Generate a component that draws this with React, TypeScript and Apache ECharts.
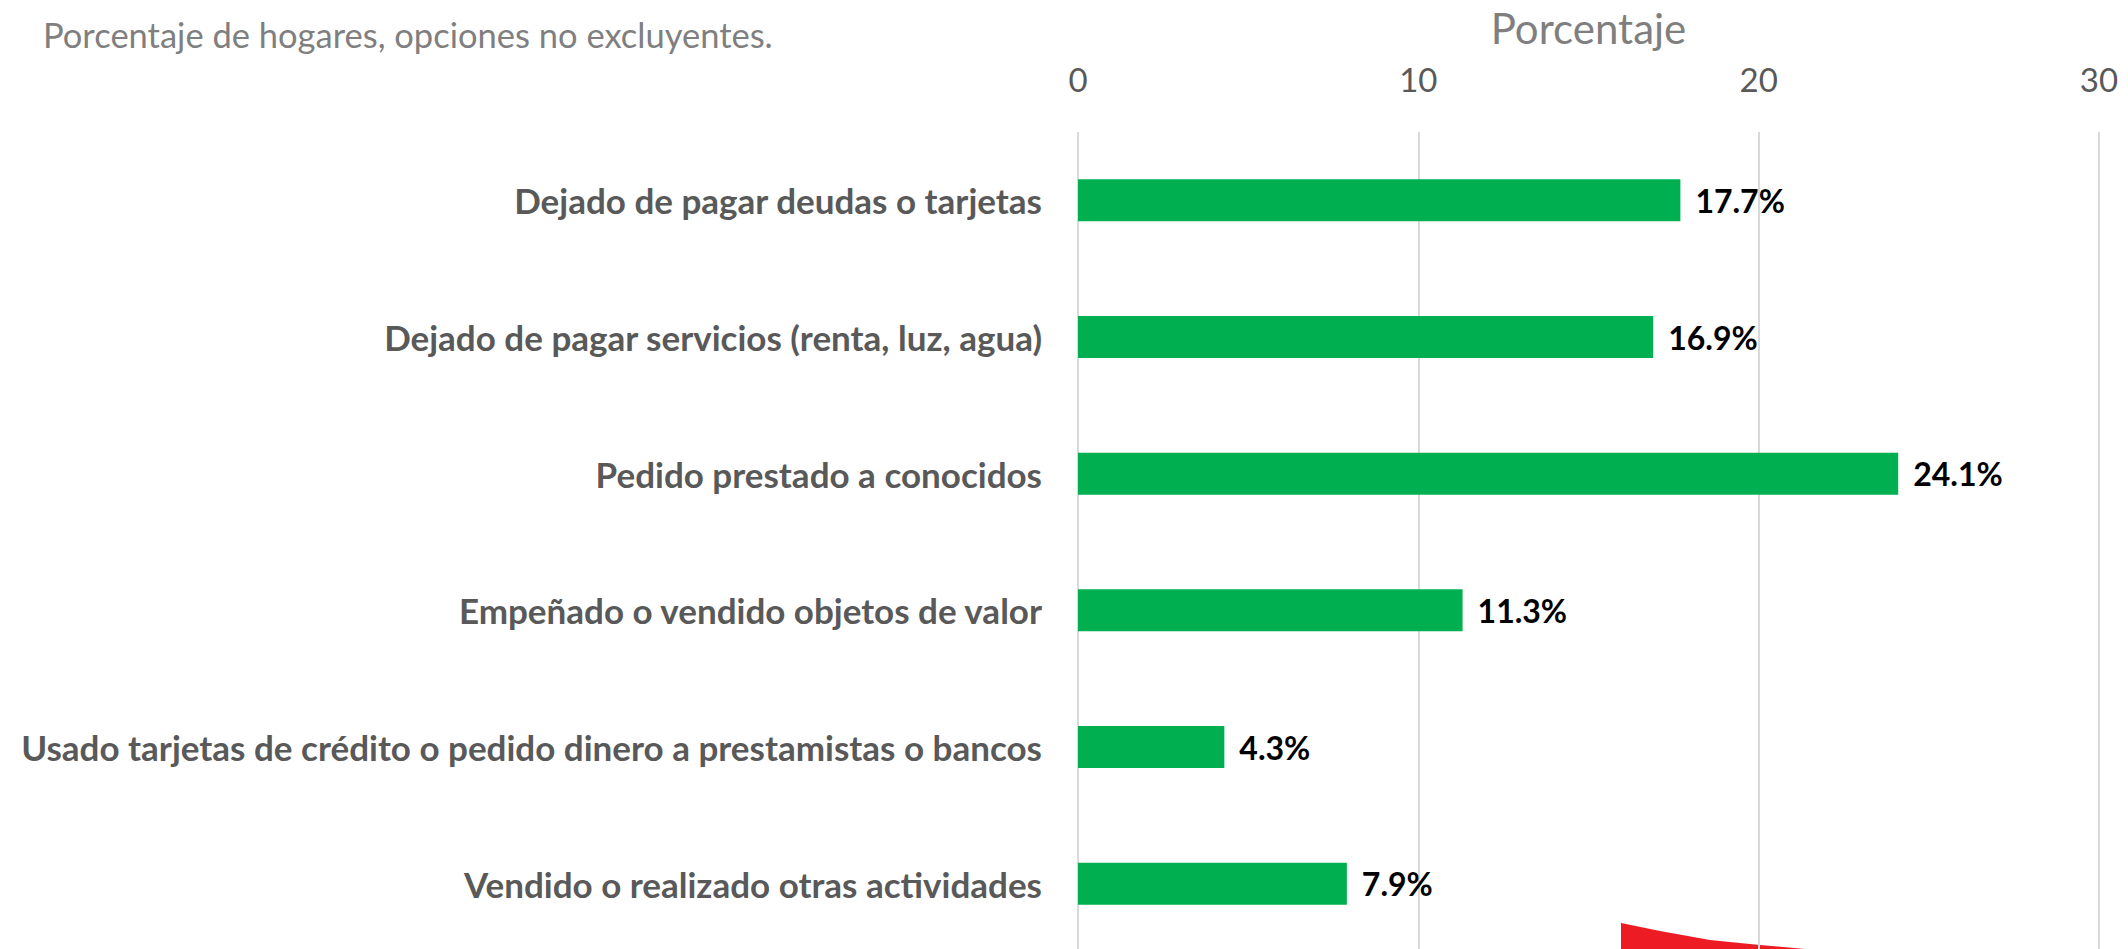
import React, { useEffect, useRef } from "react";
import * as echarts from "echarts";

const categories: string[] = [
  "Dejado de pagar deudas o tarjetas",
  "Dejado de pagar servicios (renta, luz, agua)",
  "Pedido prestado a conocidos",
  "Empeñado o vendido objetos de valor",
  "Usado tarjetas de crédito o pedido dinero a prestamistas o bancos",
  "Vendido o realizado otras actividades",
];
const values: number[] = [17.7, 16.9, 24.1, 11.3, 4.3, 7.9];
const axisTicks: number[] = [0, 10, 20, 30];
const subtitle = "Porcentaje de hogares, opciones no excluyentes.";
const axisTitle = "Porcentaje";

const FONT = "Lato";

export default function App() {
  const ref = useRef<HTMLDivElement>(null);
  useEffect(() => {
    if (!ref.current) return;
    const chart = echarts.init(ref.current, undefined, { renderer: "svg" });
    chart.setOption({
      animation: false,
      backgroundColor: "#ffffff",
      grid: {
        left: 1078,
        right: 29,
        top: 132,
        height: 820,
        containLabel: false,
        outerBoundsMode: "none",
      },
      xAxis: {
        type: "value",
        position: "top",
        min: axisTicks[0],
        max: axisTicks[axisTicks.length - 1],
        interval: 10,
        name: axisTitle,
        nameLocation: "middle",
        nameGap: 83,
        nameTextStyle: { fontFamily: FONT, fontSize: 42, color: "#7f7f7f" },
        axisLine: { show: false },
        axisTick: { show: false },
        axisLabel: { fontFamily: FONT, fontSize: 33, color: "#595959", margin: 37 },
        splitLine: { show: true, lineStyle: { color: "#d9d9d9", width: 2 } },
      },
      yAxis: {
        type: "category",
        data: categories,
        inverse: true,
        axisLine: { show: false },
        axisTick: { show: false },
        axisLabel: {
          fontFamily: FONT,
          fontSize: 35,
          fontWeight: "bold",
          color: "#595959",
          margin: 36,
        },
      },
      series: [
        {
          type: "bar",
          data: values,
          barWidth: 42,
          itemStyle: { color: "#00b050" },
          label: {
            show: true,
            position: "right",
            distance: 15,
            fontFamily: FONT,
            fontSize: 32,
            fontWeight: "bold",
            color: "#000000",
            formatter: (p: any) => `${Number(p.value).toFixed(1)}%`,
          },
        },
      ],
      graphic: [
        {
          type: "text",
          x: 43,
          y: 34,
          silent: true,
          style: {
            text: subtitle,
            fontFamily: FONT,
            fontSize: 34.5,
            fill: "#7f7f7f",
            align: "left",
            verticalAlign: "middle",
          },
        },
        {
          type: "polygon",
          shape: {
            points: [
              [1621, 923],
              [1660, 931],
              [1710, 940],
              [1760, 945],
              [1805, 949],
              [1621, 949],
            ],
          },
          style: { fill: "#ed1c24" },
          silent: true,
        },
      ],
    });
    return () => chart.dispose();
  }, []);
  return (
    <div
      ref={ref}
      style={{ position: "fixed", left: 0, top: 0, width: 2128, height: 949 }}
    />
  );
}
